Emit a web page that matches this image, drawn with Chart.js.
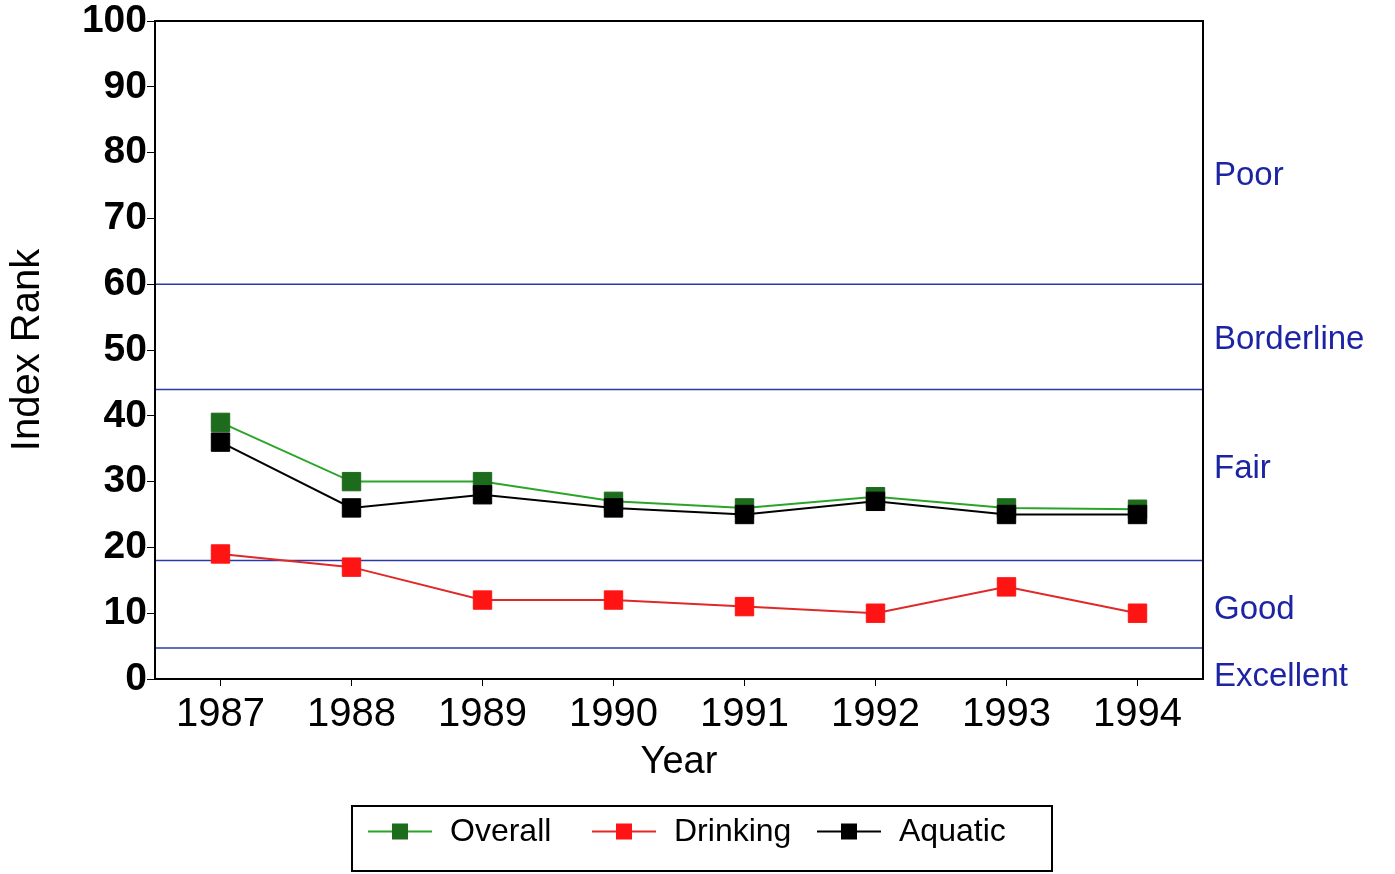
<!DOCTYPE html>
<html>
<head>
<meta charset="utf-8">
<title>Index Rank by Year</title>
<script src="https://cdn.jsdelivr.net/npm/chart.js@4.4.1/dist/chart.umd.min.js"></script>
<style>
  html, body { margin: 0; padding: 0; background: #fff; }
  #wrap { width: 1395px; height: 874px; position: relative; }
</style>
</head>
<body>
<div id="wrap"><canvas id="rankChart"></canvas></div>
<script>
const years = ["1987", "1988", "1989", "1990", "1991", "1992", "1993", "1994"];
const overall = [39, 30, 30, 27, 26, 27.7, 26, 25.8];
const drinking = [19, 17, 12, 12, 11, 10, 14, 10];
const aquatic = [36, 26, 28, 26, 25, 27, 25, 25];

// class boundaries and the labels written to the right of the plot
const thresholds = [60, 44, 18, 4.7];
const bandNames = ["Poor", "Borderline", "Fair", "Good", "Excellent"];
const bandLabelAt = [76.5, 51.5, 32, 10.5, 0.3];

const BLUE = "#1c24a4";
const LINE_BLUE = "#2a3aa8";
const FONT = "'Liberation Sans', Arial, sans-serif";

const bandsPlugin = {
  id: "bands",
  beforeDatasetsDraw(chart) {
    const { ctx, chartArea, scales } = chart;
    ctx.save();
    ctx.strokeStyle = LINE_BLUE;
    ctx.lineWidth = 1.5;
    thresholds.forEach((t) => {
      const y = scales.y.getPixelForValue(t);
      ctx.beginPath();
      ctx.moveTo(chartArea.left, y);
      ctx.lineTo(chartArea.right, y);
      ctx.stroke();
    });
    ctx.restore();
  },
  afterDraw(chart) {
    const { ctx, chartArea, scales } = chart;
    ctx.save();
    // frame
    ctx.strokeStyle = "#000";
    ctx.lineWidth = 2;
    ctx.strokeRect(chartArea.left, chartArea.top, chartArea.right - chartArea.left, chartArea.bottom - chartArea.top);

    // band names on the right
    ctx.fillStyle = BLUE;
    ctx.font = "33px " + FONT;
    ctx.textAlign = "left";
    ctx.textBaseline = "middle";
    bandNames.forEach((name, i) => {
      ctx.fillText(name, chartArea.right + 11, scales.y.getPixelForValue(bandLabelAt[i]));
    });

    // legend box
    const items = chart.data.datasets
      .slice()
      .sort((a, b) => a.legendPos - b.legendPos);
    const boxX = 352, boxY = 806, boxW = 700, boxH = 65;
    ctx.strokeStyle = "#000";
    ctx.lineWidth = 2;
    ctx.strokeRect(boxX, boxY, boxW, boxH);
    const cy = boxY + boxH / 2 - 7;
    const starts = [368, 592, 817];
    ctx.font = "32px " + FONT;
    ctx.fillStyle = "#000";
    items.forEach((ds, i) => {
      const x0 = starts[i];
      ctx.strokeStyle = ds.borderColor;
      ctx.lineWidth = 2;
      ctx.beginPath();
      ctx.moveTo(x0, cy);
      ctx.lineTo(x0 + 64, cy);
      ctx.stroke();
      ctx.fillStyle = ds.pointBackgroundColor;
      ctx.fillRect(x0 + 32 - 8, cy - 8, 16, 16);
      ctx.fillStyle = "#000";
      ctx.fillText(ds.label, x0 + 82, cy + 1);
    });
    ctx.restore();
  }
};

const ctx = document.getElementById("rankChart").getContext("2d");
new Chart(ctx, {
  type: "line",
  data: {
    labels: years,
    datasets: [
      {
        label: "Overall",
        data: overall,
        borderColor: "#2aa52a",
        pointBackgroundColor: "#1d6b1d",
        pointBorderColor: "#1d6b1d",
        order: 2,
        legendPos: 0,
      },
      {
        label: "Drinking",
        data: drinking,
        borderColor: "#e02828",
        pointBackgroundColor: "#ff1414",
        pointBorderColor: "#ff1414",
        order: 1,
        legendPos: 1,
      },
      {
        label: "Aquatic",
        data: aquatic,
        borderColor: "#000000",
        pointBackgroundColor: "#000000",
        pointBorderColor: "#000000",
        order: 0,
        legendPos: 2,
      },
    ],
  },
  options: {
    responsive: true,
    maintainAspectRatio: false,
    animation: false,
    elements: {
      line: { borderWidth: 2, tension: 0, fill: false },
      point: { pointStyle: "rect", radius: 13, borderWidth: 1, hoverRadius: 13 },
    },
    layout: { padding: { left: 0, right: 192, top: 21, bottom: 84 } },
    plugins: {
      legend: { display: false },
      tooltip: { enabled: false },
    },
    scales: {
      x: {
        offset: true,
        grid: { drawOnChartArea: false, drawTicks: true, tickLength: 7, color: "#000", offset: false },
        border: { display: true, color: "#000", width: 2 },
        ticks: { color: "#000", padding: 5, maxRotation: 0, font: { family: FONT, size: 40 } },
        title: {
          display: true,
          text: "Year",
          color: "#000",
          font: { family: FONT, size: 38 },
          padding: { top: 0, bottom: 5 },
        },
        afterFit(scale) { scale.height = 111; },
      },
      y: {
        min: 0,
        max: 100,
        grid: { drawOnChartArea: false, drawTicks: true, tickLength: 8, color: "#000" },
        border: { display: true, color: "#000", width: 2 },
        ticks: {
          stepSize: 10,
          color: "#000",
          padding: 0,
          font: { family: FONT, size: 39, weight: "bold", lineHeight: 1 },
        },
        title: {
          display: true,
          text: "Index Rank",
          color: "#000",
          font: { family: FONT, size: 40 },
          padding: { top: 4, bottom: 0 },
        },
        afterFit(scale) { scale.width = 155; },
      },
    },
  },
  plugins: [bandsPlugin],
});
</script>
</body>
</html>
